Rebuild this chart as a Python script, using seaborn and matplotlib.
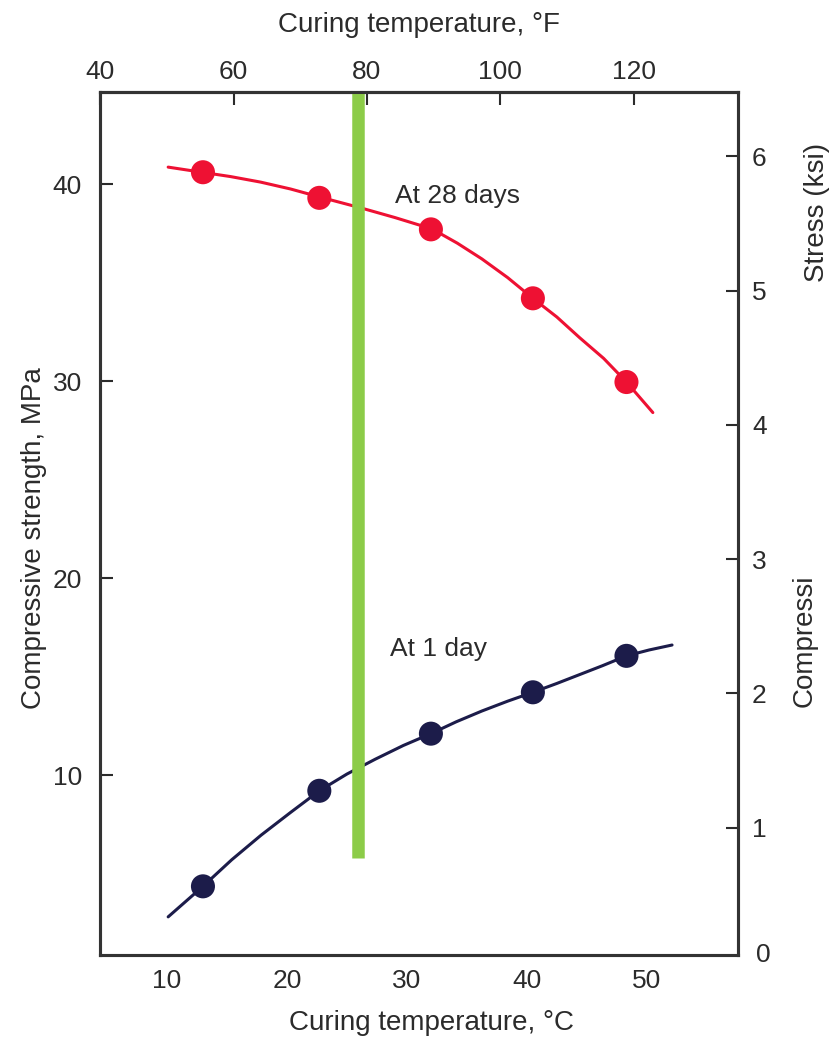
import matplotlib
matplotlib.use('Agg')
import matplotlib.pyplot as plt
import matplotlib.transforms as mtransforms
import pandas as pd
import seaborn as sns

# measured points (deg C, MPa)
temp_c = [13.0, 22.7, 32.0, 40.5, 48.3]
strength_28d = [40.6, 39.3, 37.7, 34.2, 29.95]
strength_1d = [4.35, 9.2, 12.1, 14.2, 16.05]

# points
curve28_t = [10.1, 12.9, 15.3, 17.8, 20.3, 22.75, 26.1, 29.0, 32.1, 34.2, 36.25, 38.4,
             40.5, 42.5, 44.4, 46.4, 48.3, 50.5]
curve28_s = [40.86, 40.6, 40.38, 40.1, 39.75, 39.34, 38.8, 38.3, 37.72, 37.0, 36.2, 35.25,
             34.2, 33.25, 32.2, 31.15, 29.95, 28.4]
curve1_t = [10.1, 13.0, 15.4, 17.85, 20.3, 22.7, 25.0, 27.35, 29.7, 32.0, 34.1, 36.25,
            38.4, 40.5, 42.5, 44.4, 46.3, 48.3, 50.2, 52.1]
curve1_s = [2.8, 4.35, 5.7, 6.95, 8.1, 9.2, 10.05, 10.8, 11.5, 12.1, 12.7, 13.25,
            13.75, 14.2, 14.65, 15.1, 15.55, 16.05, 16.35, 16.6]

c_ticks = [10, 20, 30, 40, 50]
f_ticks = [40, 60, 80, 100, 120]
mpa_ticks = [10, 20, 30, 40]
ksi_ticks = [1, 2, 3, 4, 5, 6]
marker_temp = 25.9  # green marker line, deg C

sns.set_style("white")
plt.rcParams['font.family'] = ['Liberation Sans', 'DejaVu Sans']
txt = '#2b2b2b'
red = '#ee1133'
navy = '#1c1c4a'

pts = pd.DataFrame({'t': temp_c * 2,
                    's': strength_28d + strength_1d,
                    'age': ['28'] * 5 + ['1'] * 5})
c28 = pd.DataFrame({'t': curve28_t, 's': curve28_s})
c1 = pd.DataFrame({'t': curve1_t, 's': curve1_s})

fig = plt.figure(figsize=(8.3, 10.45), dpi=100)
ax = fig.add_axes([0.1205, 0.0861, 0.7687, 0.8258])

sns.lineplot(data=c28, x='t', y='s', ax=ax, color=red, lw=2.2, sort=False)
sns.lineplot(data=c1, x='t', y='s', ax=ax, color=navy, lw=2.2, sort=False)
sns.scatterplot(data=pts, x='t', y='s', hue='age', palette={'28': red, '1': navy},
                s=300, edgecolor='none', ax=ax, legend=False, zorder=3)
ax.plot([marker_temp, marker_temp], [5.8, 44.67], color='#8ccc48', lw=9,
        solid_capstyle='butt', zorder=4)

ax.set_xlim(4.42, 57.6)
ax.set_ylim(0.863, 44.67)
ax.set_xticks(c_ticks)
ax.set_yticks(mpa_ticks)
ax.set_xlabel('Curing temperature, °C', fontsize=20, color=txt)
ax.set_ylabel('Compressive strength, MPa', fontsize=20, color=txt)
ax.xaxis.set_label_coords(0.52, -0.064)
ax.yaxis.set_label_coords(-0.083, 0.483)
ax.tick_params(direction='in', length=9, width=1.5, labelsize=19, colors=txt,
               labelcolor=txt)
ax.tick_params(axis='y', pad=13)
ax.tick_params(axis='x', pad=10)
for sp in ax.spines.values():
    sp.set_linewidth(2.2)
    sp.set_color('#333333')

# top axis in Fahrenheit
top = ax.secondary_xaxis('top', functions=(lambda c: c * 9 / 5 + 32,
                                           lambda f: (f - 32) * 5 / 9))
top.set_xticks(f_ticks)
top.tick_params(direction='in', length=9, width=1.5, labelsize=19, colors=txt,
                labelcolor=txt, pad=6)
top.spines['top'].set_linewidth(2.2)
top.set_xlabel('Curing temperature, °F', fontsize=20, color=txt, labelpad=20)

# right axis in ksi
right = ax.twinx()
right.set_ylim(0.05, 6.48)
right.set_yticks(ksi_ticks)
right.tick_params(direction='in', length=9, width=1.5, labelsize=19, colors=txt,
                  labelcolor=txt, pad=10)
right.grid(False)
for sp in right.spines.values():
    sp.set_linewidth(2.2)
    sp.set_color('#333333')
trans = mtransforms.blended_transform_factory(right.transAxes, right.transData)
right.text(1.028, 0.05, '0', transform=trans, fontsize=19, color=txt,
           ha='left', va='center')

ax.text(29.0, 39.4, 'At 28 days', fontsize=19, color=txt, ha='left', va='center')
ax.text(28.6, 16.4, 'At 1 day', fontsize=19, color=txt, ha='left', va='center')

fig.text(0.970, 0.387, 'Compressi', rotation=90, fontsize=20, color=txt,
         ha='center', va='center')
fig.text(0.984, 0.797, 'Stress (ksi)', rotation=90, fontsize=20, color=txt,
         ha='center', va='center')

fig.savefig('out.png', dpi=100)
